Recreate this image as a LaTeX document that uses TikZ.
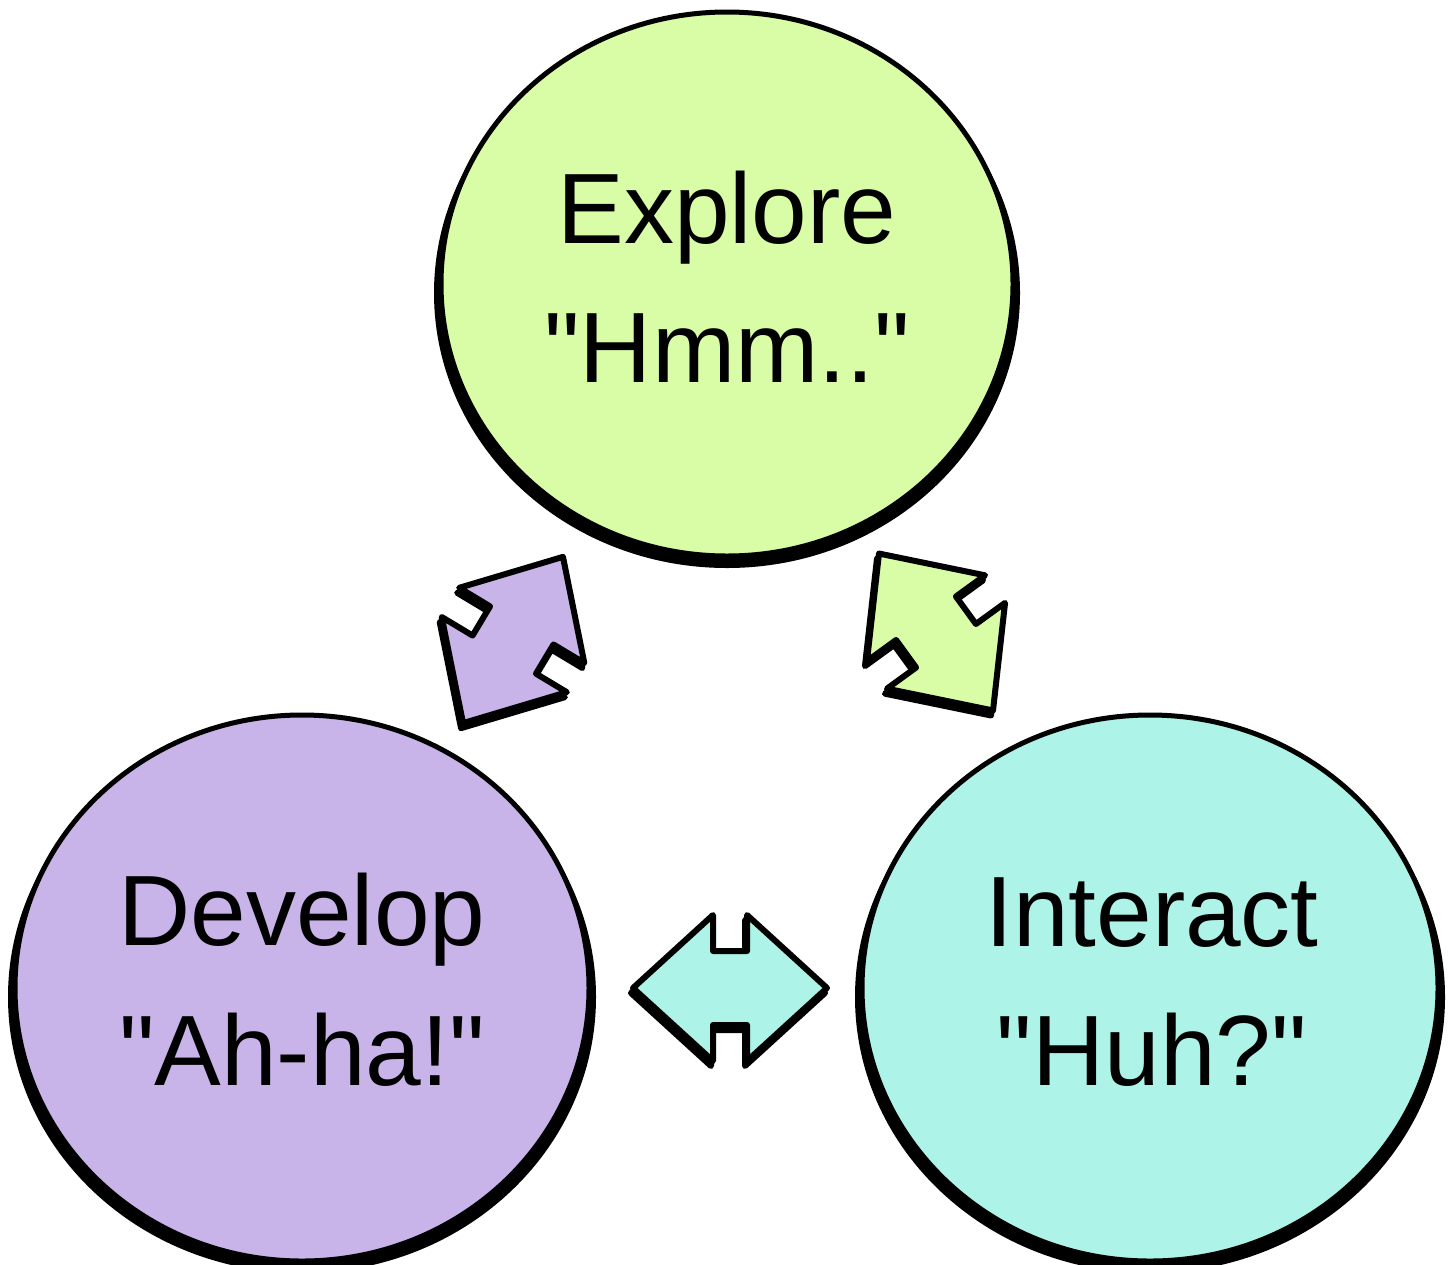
\documentclass[tikz,border=0pt]{standalone}
\usepackage{fontspec}
\newfontfamily\labelfont{Liberation Sans}
\usetikzlibrary{calc}
\definecolor{cgreen}{RGB}{217,252,166}
\definecolor{cpurple}{RGB}{200,180,232}
\definecolor{ccyan}{RGB}{173,243,232}
\tikzset{
  bubble/.style={draw=black,line width=5pt},
  blockarrow/.style={draw=black,line width=6pt,line join=round},
  shadowarrow/.style={fill=black,draw=black,line width=6pt,line join=round},
  label/.style={anchor=base,inner sep=0pt,font=\labelfont\fontsize{100}{120}\selectfont},
}
\newcommand\myarrowpath{(-97,0) -- (-17,-73) -- (-17,-37) -- (17,-37) -- (17,-73) -- (97,0) -- (17,73) -- (17,37) -- (-17,37) -- (-17,73) -- cycle}
\newcommand\mydblarrow[3]{%
  \begin{scope}[shift={(#1)},xshift=-2pt,yshift=-5pt,rotate=#2]
    \path[shadowarrow] \myarrowpath;
  \end{scope}
  \begin{scope}[shift={(#1)},rotate=#2]
    \path[blockarrow,fill=#3] \myarrowpath;
  \end{scope}}
\newcommand\mybubble[4]{%
  \fill[black] ($(#1)+(0,9)$) ellipse [x radius=#2+7, y radius=#3+3];
  \path[bubble,fill=#4] (#1) ellipse [x radius=#2, y radius=#3];}
\begin{document}
\begin{tikzpicture}[x=1pt,y=-1pt]
\useasboundingbox (0,0) rectangle (1450,1264);
\clip (0,0) rectangle (1450,1264);
\coordinate (cE) at (727,284);
\coordinate (cD) at (302,988);
\coordinate (cI) at (1150,988);
\coordinate (aDE) at (513,640);
\coordinate (aEI) at (936,632);
\coordinate (aDI) at (730,988);

\mybubble{cE}{286}{272}{cgreen}
\mybubble{cD}{287}{273}{cpurple}
\mybubble{cI}{288}{273}{ccyan}

\mydblarrow{aDE}{59}{cpurple}
\mydblarrow{aEI}{-54}{cgreen}
\mydblarrow{aDI}{0}{ccyan}

\node[label] (e1) at (727,243) {Explore};
\node[label] (e2) at (727,382) {"Hmm.."};
\node[label] (d1) at (302,945) {Develop};
\node[label] (d2) at (302,1085) {"Ah-ha!"};
\node[label] (i1) at (1152,946) {Interact};
\node[label] (i2) at (1152,1085) {"Huh?"};
\end{tikzpicture}
\end{document}
